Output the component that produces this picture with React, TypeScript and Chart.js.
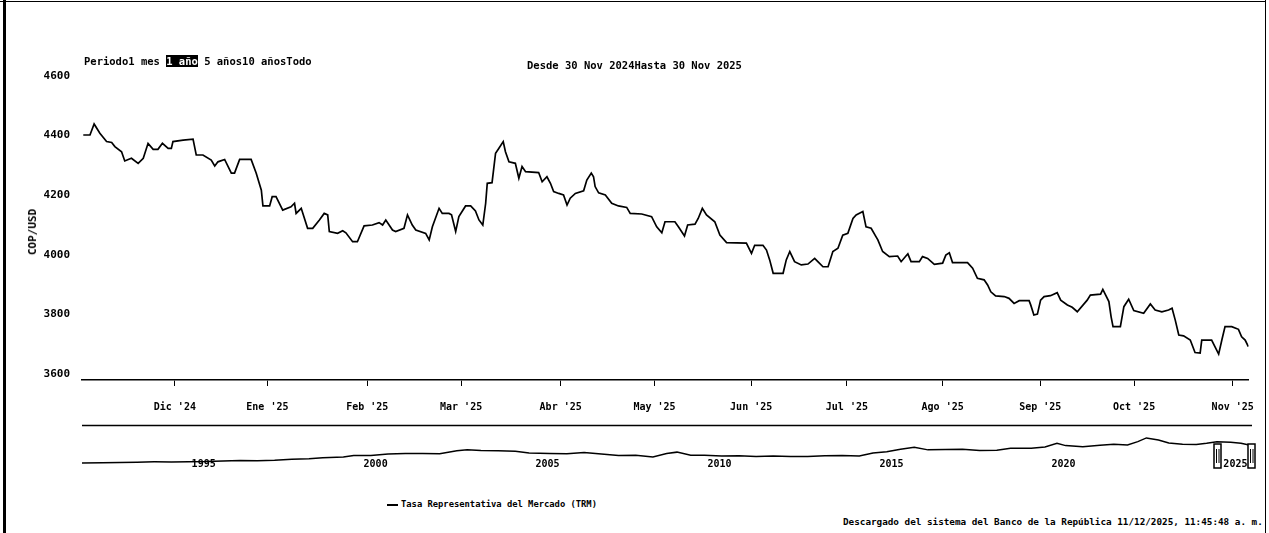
import React, { useEffect, useRef } from "react";
import { Chart, registerables } from "chart.js";
Chart.register(...registerables);

// ---- Main series (days since 30 Nov 2024, COP per USD) ----
const days = [
  0.4, 2.5, 3.8, 5.6, 7.7, 9.3, 10.3, 12.4, 13.4, 14.5,
  15.5, 17.6, 19.2, 20.7, 22.3, 23.8, 25.2, 27, 28, 28.5,
  31.7, 34.8, 35.8, 37.9, 40.5, 41.6, 42.6, 44.7, 46.8, 47.8,
  49.4, 53, 54.6, 56.2, 56.7, 58.8, 59.6, 60.8, 62.9, 65.5,
  66.6, 67.1, 68.7, 70.7, 72.3, 74.4, 75.9, 77, 77.5, 80.1,
  81.7, 82.7, 84.8, 86.3, 88.4, 91, 93.1, 94.2, 95.2, 97.3,
  98.3, 100.9, 102, 103.5, 104.6, 107.7, 108.8, 109.8, 111.9, 112.9,
  115, 115.8, 117.1, 118.1, 120.2, 121.8, 123.3, 124.4, 125.6, 126.5,
  127, 128.5, 129.6, 130.6, 132, 132.7, 133.8, 135.8, 136.9, 137.9,
  139, 143.1, 144.2, 145.7, 146.8, 147.8, 149.4, 150.9, 152, 153,
  154.6, 157.2, 158.2, 159.6, 160.3, 160.8, 161.9, 164, 166, 168.1,
  170.7, 171.8, 175.4, 178.5, 180.1, 181.7, 182.7, 185.8, 186.9, 188.8,
  189.8, 192.1, 193.1, 194.4, 195.7, 198.3, 199.9, 202, 208.2, 209.8,
  210.8, 213.4, 214.5, 215.5, 216.6, 219.7, 220.7, 221.8, 223.3, 225.4,
  227.5, 229.6, 230.6, 232.2, 233.8, 235.3, 236.9, 238.4, 240, 241.6,
  242.6, 244.7, 245.7, 247.3, 248.8, 249.4, 250.9, 253, 255.6, 256.7,
  258.2, 258.8, 259.8, 262.4, 263.4, 265, 267.1, 269.7, 270.7, 271.8,
  272.8, 277.5, 279.1, 280.6, 282.7, 283.8, 284.8, 286.3, 289, 290.5,
  292.1, 293.7, 296.8, 297.3, 298.3, 299.4, 300.4, 301.5, 303.5, 305.6,
  306.7, 308.8, 310.3, 311.9, 315, 316, 319.2, 319.9, 321.8, 322.5,
  323.1, 325.4, 326.5, 328, 329.6, 332.7, 334.8, 336.3, 338.4, 340.5,
  341.6, 342.6, 343.7, 345.2, 347.3, 348.8, 350.4, 350.9, 354, 356.2,
  357.2, 358.2, 360.3, 362.4, 363.4, 364.5, 365.5,
];
const rates = [
  4402, 4402, 4439, 4408, 4380, 4377, 4363, 4346, 4315, 4320,
  4324, 4307, 4324, 4374, 4354, 4354, 4374, 4357, 4357, 4380,
  4385, 4388, 4335, 4335, 4318, 4298, 4312, 4320, 4274, 4274,
  4320, 4320, 4274, 4217, 4164, 4164, 4195, 4195, 4150, 4161,
  4173, 4139, 4156, 4089, 4089, 4117, 4139, 4134, 4078, 4072,
  4081, 4074, 4044, 4044, 4097, 4100, 4108, 4100, 4117, 4083,
  4078, 4089, 4134, 4100, 4083, 4072, 4050, 4094, 4156, 4139,
  4139, 4134, 4078, 4128, 4164, 4164, 4147, 4117, 4100, 4173,
  4240, 4242, 4341, 4357, 4380, 4346, 4312, 4307, 4257, 4296,
  4279, 4276, 4245, 4262, 4240, 4212, 4206, 4201, 4167, 4190,
  4206, 4215, 4251, 4274, 4262, 4229, 4208, 4201, 4173, 4164,
  4159, 4139, 4137, 4128, 4094, 4074, 4111, 4111, 4094, 4063,
  4100, 4103, 4122, 4156, 4134, 4111, 4066, 4041, 4039, 4005,
  4032, 4032, 4016, 3983, 3938, 3938, 3983, 4011, 3977, 3966,
  3969, 3988, 3977, 3960, 3960, 4011, 4022, 4066, 4072, 4122,
  4134, 4145, 4094, 4089, 4061, 4050, 4011, 3994, 3996, 3977,
  3996, 4003, 3977, 3977, 3994, 3988, 3968, 3972, 3999, 4007,
  3974, 3974, 3955, 3921, 3916, 3899, 3876, 3862, 3860, 3854,
  3837, 3846, 3846, 3832, 3798, 3801, 3848, 3860, 3863, 3873,
  3848, 3832, 3824, 3809, 3848, 3865, 3868, 3884, 3843, 3792,
  3759, 3759, 3826, 3851, 3813, 3804, 3835, 3815, 3809, 3815,
  3821, 3781, 3731, 3728, 3714, 3672, 3670, 3714, 3714, 3667,
  3714, 3759, 3759, 3750, 3725, 3714, 3692,
];
const dayRange = [0, 365.6];
const monthTickDays = [29.1, 58.1, 89.4, 118.8, 150, 179.4, 209.7, 239.7, 269.7, 300.3, 329.7, 360.6];
const monthLabels = ["Dic '24", "Ene '25", "Feb '25", "Mar '25", "Abr '25", "May '25", "Jun '25", "Jul '25", "Ago '25", "Sep '25", "Oct '25", "Nov '25"];
const yTicks = [3600, 3800, 4000, 4200, 4400, 4600];
const yRange = [3580, 4600];

// ---- Navigator (full history) ----
const navYears = [
  1991.9, 1992.5, 1993.0, 1993.5, 1994.0, 1994.5, 1995.0, 1995.5, 1996.0, 1996.5,
  1997.0, 1997.5, 1998.0, 1998.5, 1998.9, 1999.5, 1999.8, 2000.3, 2000.8, 2001.3,
  2001.8, 2002.3, 2002.8, 2003.1, 2003.5, 2004.0, 2004.5, 2004.9, 2005.5, 2006.0,
  2006.5, 2007.0, 2007.5, 2008.0, 2008.5, 2008.9, 2009.2, 2009.6, 2010.0, 2010.5,
  2011.0, 2011.5, 2012.0, 2012.5, 2013.0, 2013.5, 2014.0, 2014.5, 2014.9, 2015.3,
  2015.7, 2016.1, 2016.5, 2017.0, 2017.5, 2018.0, 2018.5, 2018.9, 2019.5, 2019.9,
  2020.25, 2020.5, 2021.0, 2021.5, 2021.9, 2022.3, 2022.6, 2022.85, 2023.2, 2023.5,
  2023.9, 2024.3, 2024.6, 2024.9, 2025.3, 2025.6, 2025.9,
];
const navRates = [
  640, 680, 720, 780, 830, 820, 840, 880, 990, 1060,
  1010, 1100, 1300, 1380, 1560, 1700, 1960, 1950, 2200, 2300,
  2300, 2270, 2800, 2960, 2850, 2780, 2700, 2400, 2330, 2270,
  2500, 2240, 1950, 2000, 1700, 2300, 2550, 2000, 2000, 1850,
  1900, 1780, 1850, 1790, 1770, 1920, 1950, 1880, 2390, 2600,
  3050, 3400, 2950, 3000, 3050, 2850, 2900, 3250, 3250, 3450,
  4100, 3700, 3500, 3750, 3950, 3800, 4400, 5060, 4700, 4150,
  3950, 3900, 4100, 4400, 4300, 4100, 3720,
];
const navXRange = [1991.9, 2025.92];
const navYRange = [100, 5400];
const navLabelYears = [1995, 2000, 2005, 2010, 2015, 2020, 2025];
const selectedRange = [2024.92, 2025.92];

const rangeLabel = "Periodo";
const rangeButtons = ["1 mes", "1 año", "5 años", "10 años", "Todo"];
const activeButton = "1 año";
const fromText = "Desde 30 Nov 2024";
const toText = "Hasta 30 Nov 2025";
const yTitle = "COP/USD";
const seriesName = "Tasa Representativa del Mercado (TRM)";
const footerText = "Descargado del sistema del Banco de la República 11/12/2025, 11:45:48 a. m.";

const MONO = '"DejaVu Sans Mono", monospace';

export default function App() {
  const mainRef = useRef<HTMLCanvasElement | null>(null);
  const navRef = useRef<HTMLCanvasElement | null>(null);

  useEffect(() => {
    const main = new Chart(mainRef.current as HTMLCanvasElement, {
      type: "line",
      data: {
        datasets: [
          {
            data: days.map((d, i) => ({ x: d, y: rates[i] })),
            borderColor: "#000",
            borderWidth: 1.7,
            pointRadius: 0,
            tension: 0,
            fill: false,
          },
        ],
      },
      options: {
        animation: false,
        responsive: false,
        maintainAspectRatio: false,
        layout: { padding: { left: 0, right: 17, top: 76, bottom: 0 } },
        plugins: { legend: { display: false }, tooltip: { enabled: false } },
        scales: {
          x: {
            type: "linear",
            min: dayRange[0],
            max: dayRange[1],
            afterBuildTicks: (s: any) => {
              s.ticks = monthTickDays.map((v) => ({ value: v }));
            },
            afterFit: (s: any) => {
              s.height = 50;
            },
            ticks: {
              callback: (_v: any, i: number) => monthLabels[i],
              autoSkip: false,
              maxRotation: 0,
              padding: 15,
              color: "#000",
              font: { family: MONO, weight: "bold", size: 10 },
            },
            grid: { drawOnChartArea: false, drawTicks: true, tickLength: 6, color: "#000", lineWidth: 1 },
            border: { display: true, color: "#000", width: 1.6 },
          },
          y: {
            type: "linear",
            min: yRange[0],
            max: yRange[1],
            afterBuildTicks: (s: any) => {
              s.ticks = yTicks.map((v) => ({ value: v }));
            },
            afterFit: (s: any) => {
              s.width = 82;
            },
            ticks: {
              callback: (v: any) => String(v),
              padding: 4,
              color: "#000",
              font: { family: MONO, weight: "bold", size: 11 },
            },
            grid: { display: false },
            border: { display: false },
          },
        },
      },
    } as any);

    const navPlugin = {
      id: "navDecor",
      afterDatasetsDraw(chart: any) {
        const ctx = chart.ctx;
        const area = chart.chartArea;
        const xs = chart.scales.x;
        ctx.save();
        ctx.strokeStyle = "#000";
        ctx.lineWidth = 1.5;
        ctx.beginPath();
        ctx.moveTo(area.left, 5.5);
        ctx.lineTo(area.right, 5.5);
        ctx.stroke();
        ctx.fillStyle = "#000";
        ctx.font = `bold 10px ${MONO}`;
        ctx.textBaseline = "middle";
        ctx.textAlign = "left";
        navLabelYears.forEach((yr) => {
          const px = xs.getPixelForValue(yr);
          ctx.fillText(String(yr), px + 3, area.bottom - 1.5);
        });
        selectedRange.forEach((v) => {
          const px = Math.round(xs.getPixelForValue(v)) - 3.5;
          ctx.fillStyle = "#fff";
          ctx.fillRect(px - 0.5, 24, 7, 24);
          ctx.strokeStyle = "#000";
          ctx.lineWidth = 1.5;
          ctx.strokeRect(px - 0.5, 24, 7, 24);
          ctx.lineWidth = 1;
          ctx.beginPath();
          ctx.moveTo(px + 2, 29);
          ctx.lineTo(px + 2, 43);
          ctx.moveTo(px + 4.5, 29);
          ctx.lineTo(px + 4.5, 43);
          ctx.stroke();
        });
        ctx.restore();
      },
    };

    const nav = new Chart(navRef.current as HTMLCanvasElement, {
      type: "line",
      data: {
        datasets: [
          {
            data: navYears.map((d, i) => ({ x: d, y: navRates[i] })),
            borderColor: "#000",
            borderWidth: 1.5,
            pointRadius: 0,
            tension: 0,
            fill: false,
          },
        ],
      },
      options: {
        animation: false,
        responsive: false,
        maintainAspectRatio: false,
        layout: { padding: { left: 82, right: 17, top: 16, bottom: 14 } },
        plugins: { legend: { display: false }, tooltip: { enabled: false } },
        scales: {
          x: { type: "linear", display: false, min: navXRange[0], max: navXRange[1] },
          y: { type: "linear", display: false, min: navYRange[0], max: navYRange[1] },
        },
      },
      plugins: [navPlugin],
    } as any);

    return () => {
      main.destroy();
      nav.destroy();
    };
  }, []);

  const txt: React.CSSProperties = {
    position: "absolute",
    fontFamily: MONO,
    fontWeight: "bold",
    color: "#000",
    whiteSpace: "pre",
  };

  return (
    <div
      style={{
        position: "fixed",
        left: 0,
        top: 0,
        width: 1269,
        height: 533,
        background: "#fff",
        overflow: "hidden",
      }}
    >
      <div style={{ position: "absolute", left: 3, top: 0, width: 3, height: 533, background: "#000" }} />
      <div style={{ position: "absolute", left: 0, top: 1, width: 1266, height: 1, background: "#000" }} />
      <div style={{ position: "absolute", left: 1265, top: 0, width: 1, height: 533, background: "#000" }} />

      <canvas ref={mainRef} width={1269} height={430} style={{ position: "absolute", left: 0, top: 0 }} />
      <canvas ref={navRef} width={1269} height={60} style={{ position: "absolute", left: 0, top: 420 }} />

      <div style={{ ...txt, left: 84, top: 55, fontSize: 10.5, lineHeight: "13px" }}>
        {rangeLabel}
        {rangeButtons.map((b, i) => {
          const active = b === activeButton;
          const sep = i === 0 ? "" : b === "1 año" || b === "5 años" ? " " : "";
          return (
            <React.Fragment key={b}>
              {sep}
              <span style={active ? { background: "#000", color: "#fff" } : {}}>{b}</span>
            </React.Fragment>
          );
        })}
      </div>
      <div style={{ ...txt, left: 527, top: 59, fontSize: 10.5, lineHeight: "13px" }}>
        {fromText}
        {toText}
      </div>

      <div
        style={{
          ...txt,
          left: 33,
          top: 232,
          fontSize: 11,
          lineHeight: "12px",
          transform: "translate(-50%, -50%) rotate(-90deg)",
        }}
      >
        {yTitle}
      </div>

      <div style={{ position: "absolute", left: 387, top: 504, width: 11, height: 2, background: "#000" }} />
      <div style={{ ...txt, left: 401, top: 499, fontSize: 8.8, lineHeight: "11px" }}>{seriesName}</div>

      <div style={{ ...txt, left: 843, top: 516, fontSize: 9.3, lineHeight: "12px" }}>{footerText}</div>
    </div>
  );
}
